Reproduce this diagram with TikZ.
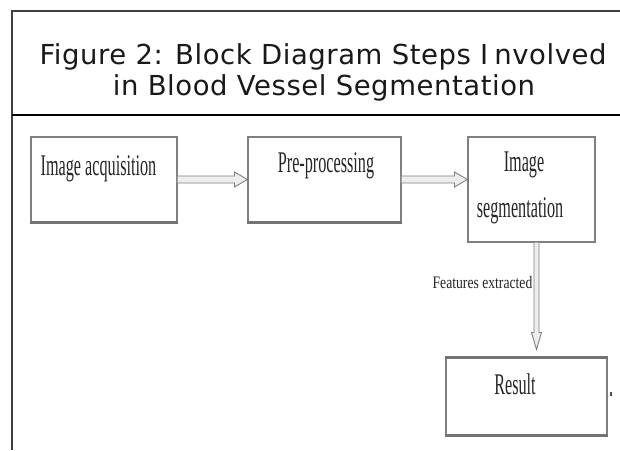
\documentclass[tikz,border=0pt]{standalone}
\usepackage{fontspec}
\setmainfont{Liberation Serif}
\newfontfamily\titlefont[LetterSpace=2]{DejaVu Sans}
\newfontfamily\boxfont[FakeStretch=0.54]{Liberation Serif}
\newfontfamily\labelfont[FakeStretch=0.78]{Liberation Serif}
\usetikzlibrary{calc}

\tikzset{
  frameline/.style={draw=black!75, line width=1.3pt},
  sepline/.style={draw=black, line width=2.5pt},
  stepbox/.style={draw=black!50, line width=1.1pt, fill=white, inner sep=0pt},
  boxedge/.style={draw=black!55, line width=2.6pt},
  boxtext/.style={font=\boxfont\fontsize{30}{32}\selectfont, text=black!85, anchor=base, inner sep=0pt},
  labeltext/.style={font=\labelfont\fontsize{17.5}{19}\selectfont, text=black!85, anchor=base east, inner sep=0pt},
  titletext/.style={font=\titlefont\fontsize{27.5}{30}\selectfont, text=black!90, anchor=base, inner sep=0pt},
  hollow/.style={draw=black!50, line width=0.9pt, fill=black!7},
}

% hollow block arrow pointing right, from #1 to the tip #2
\newcommand\hollowright[2]{%
  \filldraw[hollow] ($(#1)+(0,-3.5)$) -- ($(#2)+(-13,-3.5)$) -- ($(#2)+(-13,-7.5)$)
    -- (#2) -- ($(#2)+(-13,7.5)$) -- ($(#2)+(-13,3.5)$) -- ($(#1)+(0,3.5)$);}
% hollow block arrow pointing down, from #1 to the tip #2
\newcommand\hollowdown[2]{%
  \filldraw[hollow] ($(#1)+(-2.5,0)$) -- ($(#2)+(-2.5,-17)$) -- ($(#2)+(-5,-17)$)
    -- (#2) -- ($(#2)+(5,-17)$) -- ($(#2)+(2.5,-17)$) -- ($(#1)+(2.5,0)$);}

\begin{document}
\begin{tikzpicture}[x=1pt, y=-1pt]
  \useasboundingbox (0,0) rectangle (620,450);

  % outer frame and title separator
  \draw[frameline] (620,11) -- (12,11) -- (12,450);
  \draw[sepline] (12,115) -- (620,115);

  % title
  \node[titletext] (title1) at (323,64) {Figure 2: Block Diagram Steps I\kern0.22em nvolved};
  \node[titletext] (title2) at (324,95) {in Blood Vessel Segmentation};

  % process blocks
  \node[stepbox, minimum width=146pt, minimum height=85pt] (acq) at (104,179.5) {};
  \node[stepbox, minimum width=153pt, minimum height=85pt] (pre) at (324.5,179.5) {};
  \node[stepbox, minimum width=127pt, minimum height=105pt] (seg) at (531.5,189.5) {};
  \node[stepbox, minimum width=161pt, minimum height=77pt] (res) at (526.5,396.5) {};

  % heavier edges of the blocks
  \draw[boxedge] (acq.south west) -- (acq.south east);
  \draw[boxedge] (pre.south west) -- (pre.south east);
  \draw[boxedge] (res.north west) -- (res.north east);
  \draw[boxedge] (res.south west) -- (res.south east);
  \fill[black!70] ($(res.east)+(2,-5)$) rectangle ($(res.east)+(4,-1)$);

  % block labels
  \node[boxtext] (acqtext) at ($(acq.north)+(-5.5,39)$) {Image acquisition};
  \node[boxtext] (pretext) at ($(pre.north)+(1.5,36)$) {Pre-processing};
  \node[boxtext] (segtext1) at ($(seg.north)+(-7.5,35)$) {Image};
  \node[boxtext] (segtext2) at ($(seg.north)+(-11.5,81)$) {segmentation};
  \node[boxtext] (restext) at ($(res.north)+(-11.5,37)$) {Result};

  % connectors
  \hollowright{acq.east}{pre.west}
  \coordinate (segin) at (pre.east -| seg.west);
  \hollowright{pre.east}{segin}
  \coordinate (vstart) at ($(seg.south)+(5,0)$);
  \coordinate (vfoot) at (vstart |- res.north);
  \coordinate (vtip) at ($(vfoot)+(0,-8)$);
  \hollowdown{vstart}{vtip}
  \node[labeltext] (feat) at ($(vstart)+(-4,46)$) {Features extracted};
\end{tikzpicture}
\end{document}
